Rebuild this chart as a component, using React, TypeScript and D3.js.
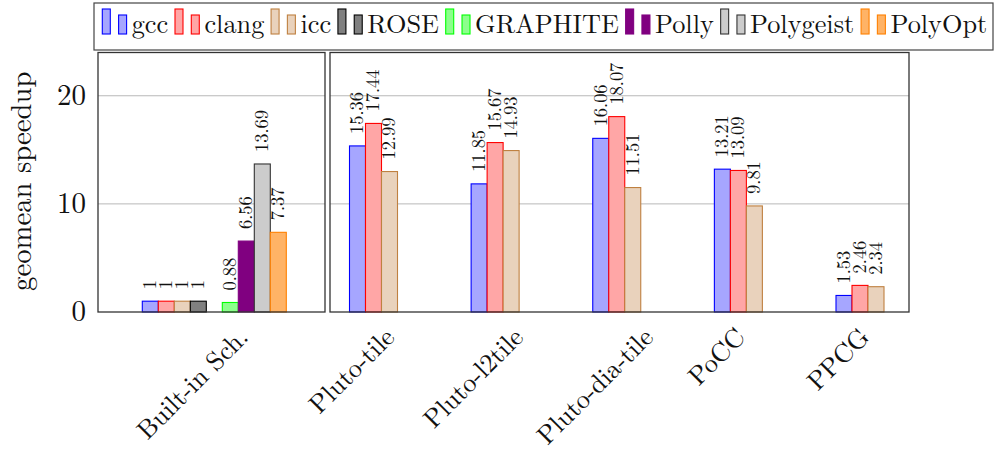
import React, { useLayoutEffect, useRef, useState } from "react";
import * as d3 from "d3";

// ---- data ----
const seriesNames = ["gcc", "clang", "icc", "ROSE", "GRAPHITE", "Polly", "Polygeist", "PolyOpt"];
const builtinCategory = "Built-in Sch.";
const builtinValues = [1, 1, 1, 1, 0.88, 6.56, 13.69, 7.37];
const toolCategories = ["Pluto-tile", "Pluto-l2tile", "Pluto-dia-tile", "PoCC", "PPCG"];
const gccValues = [15.36, 11.85, 16.06, 13.21, 1.53];
const clangValues = [17.44, 15.67, 18.07, 13.09, 2.46];
const iccValues = [12.99, 14.93, 11.51, 9.81, 2.34];
const yTicks = [0, 10, 20];

// ---- styles ----
const fills = ["#a6a6ff", "#ffa6a6", "#e9d2bc", "#808080", "#8cff8c", "#800080", "#cccccc", "#ffb366"];
const strokes = ["#0000ff", "#ff0000", "#bf8040", "#000000", "#00ff00", "#800080", "#333333", "#ff8000"];
const FONT = "'Latin Modern Roman', 'Liberation Serif', 'Times New Roman', monospace";

const W = 997;
const H = 450;
const plotTop = 52.5;
const plotBottom = 312;
const leftBox = [98, 325];
const rightBox = [330, 909];
const bw = 16;

const y = d3.scaleLinear().domain([0, 24]).range([plotBottom, plotTop]);
const xLeft = d3.scalePoint<string>().domain([builtinCategory]).range([214.3, 214.3]);
const xRight = d3.scalePoint<string>().domain(toolCategories).range([373.5, 860]);

type Bar = { cx: number; v: number; s: number };
const builtinSlots = [0, 1, 2, 3, 5, 6, 7, 8];
const bars: Bar[] = [];
builtinValues.forEach((v, i) => {
  const c = xLeft(builtinCategory) as number;
  bars.push({ cx: c + (builtinSlots[i] - 4) * bw, v, s: i });
});
toolCategories.forEach((cat, j) => {
  const c = xRight(cat) as number;
  [gccValues[j], clangValues[j], iccValues[j]].forEach((v, k) => {
    bars.push({ cx: c + (k - 1) * bw, v, s: k });
  });
});

const allCats = [builtinCategory, ...toolCategories];
const catCenter = (n: string) =>
  n === builtinCategory ? (xLeft(n) as number) : (xRight(n) as number);

const LEG_SIZE = 26.3;
const XL_SIZE = 26.2;

export default function App() {
  const legRefs = useRef<(SVGTextElement | null)[]>([]);
  const xlRefs = useRef<(SVGTextElement | null)[]>([]);
  const [legW, setLegW] = useState<number[]>(seriesNames.map((n) => n.length * 13));
  const [xlW, setXlW] = useState<number[]>(allCats.map((n) => n.length * 12));

  useLayoutEffect(() => {
    const measure = () => {
      setLegW(legRefs.current.map((t) => (t ? t.getComputedTextLength() : 0)));
      setXlW(xlRefs.current.map((t) => (t ? t.getComputedTextLength() : 0)));
    };
    measure();
    if ((document as any).fonts && (document as any).fonts.ready) {
      (document as any).fonts.ready.then(measure);
    }
  }, []);

  // legend layout
  const startX = 102.3;
  const endX = 987.3;
  const symW = 29.4;
  const total = d3.sum(legW) + symW * seriesNames.length;
  const gap = (endX - startX - total) / (seriesNames.length - 1);
  const legX: number[] = [];
  let acc = startX;
  seriesNames.forEach((_, i) => {
    legX.push(acc);
    acc += symW + legW[i] + gap;
  });

  const capH = 0.68 * XL_SIZE;

  return (
    <svg
      width={W}
      height={H}
      style={{ position: "fixed", left: 0, top: 0, background: "white", fontFamily: FONT }}
    >
      {/* grid */}
      {[leftBox, rightBox].map((b, bi) =>
        yTicks
          .filter((t) => t > 0)
          .map((t) => (
            <line
              key={`g${bi}-${t}`}
              x1={b[0]}
              x2={b[1]}
              y1={y(t)}
              y2={y(t)}
              stroke="#b8b8b8"
              strokeWidth={1}
            />
          ))
      )}

      {/* bars */}
      {bars.map((d, i) => (
        <rect
          key={`b${i}`}
          x={d.cx - bw / 2}
          width={bw}
          y={y(d.v)}
          height={y(0) - y(d.v)}
          fill={fills[d.s]}
          stroke={strokes[d.s]}
          strokeWidth={1.1}
        />
      ))}

      {/* value labels */}
      {bars.map((d, i) => (
        <text
          key={`v${i}`}
          transform={`translate(${d.cx},${y(d.v) - 12}) rotate(-90)`}
          dy="0.32em"
          style={{ fontFamily: FONT, fontSize: "18.4px" }}
          fill="#111"
        >
          {String(d.v)}
        </text>
      ))}

      {/* frames */}
      {[leftBox, rightBox].map((b, bi) => (
        <rect
          key={`f${bi}`}
          x={b[0]}
          y={plotTop}
          width={b[1] - b[0]}
          height={plotBottom - plotTop}
          fill="none"
          stroke="#333"
          strokeWidth={1.3}
        />
      ))}

      {/* y ticks */}
      {yTicks.map((t) => (
        <text
          key={`yt${t}`}
          x={86}
          y={y(t)}
          dy="0.32em"
          textAnchor="end"
          style={{ fontFamily: FONT, fontSize: "29px" }}
          fill="#111"
        >
          {String(t)}
        </text>
      ))}

      {/* y label */}
      <text
        transform={`translate(31,${(plotTop + plotBottom) / 2 - 1}) rotate(-90)`}
        textAnchor="middle"
        style={{ fontFamily: FONT, fontSize: "28.7px" }}
        fill="#111"
      >
        geomean speedup
      </text>

      {/* x labels */}
      {allCats.map((n, i) => {
        const L = xlW[i];
        const cy = 326 + 0.354 * (L + capH);
        return (
          <text
            key={`xl${n}`}
            ref={(el) => {
              xlRefs.current[i] = el;
            }}
            transform={`translate(${catCenter(n) - 22},${cy}) rotate(-45)`}
            textAnchor="middle"
            dy="0.34em"
            style={{ fontFamily: FONT, fontSize: `${XL_SIZE}px` }}
            fill="#111"
          >
            {n}
          </text>
        );
      })}

      {/* legend */}
      <rect x={94} y={3} width={993 - 94} height={47} fill="white" stroke="#444" strokeWidth={1.2} />
      {seriesNames.map((n, i) => (
        <g key={`lg${n}`}>
          <rect
            x={legX[i]}
            y={9}
            width={8}
            height={25}
            fill={fills[i]}
            stroke={strokes[i]}
            strokeWidth={1.1}
          />
          <rect
            x={legX[i] + 16.3}
            y={15}
            width={8}
            height={19}
            fill={fills[i]}
            stroke={strokes[i]}
            strokeWidth={1.1}
          />
          <text
            ref={(el) => {
              legRefs.current[i] = el;
            }}
            x={legX[i] + symW}
            y={33}
            style={{ fontFamily: FONT, fontSize: `${LEG_SIZE}px` }}
            fill="#111"
          >
            {n}
          </text>
        </g>
      ))}
    </svg>
  );
}
